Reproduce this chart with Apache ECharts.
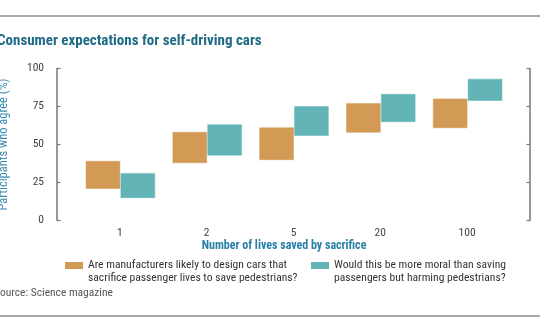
<!DOCTYPE html>
<html>
<head>
<meta charset="utf-8">
<script src="https://cdn.jsdelivr.net/npm/echarts@6/dist/echarts.min.js"></script>
<style>
  html, body { margin: 0; padding: 0; background: #fff; }
  #chart { width: 540px; height: 334px; }
</style>
</head>
<body>
<div id="chart"></div>
<script>
// Lives saved by sacrifice (x categories)
const categories = ['1', '2', '5', '20', '100'];
// Range of agreement (%) for each question, low and high ends
const makersLow  = [21, 38, 40, 58, 61];
const makersHigh = [39, 58, 61, 77, 80];
const moralLow   = [15, 43, 56, 65, 79];
const moralHigh  = [31, 63, 75, 83, 93];

const seriesNames = [
  'Are manufacturers likely to design cars that\nsacrifice passenger lives to save pedestrians?',
  'Would this be more moral than saving\npassengers but harming pedestrians?'
];
const ORANGE = '#d39a56';
const TEAL = '#62b4b6';
const FONT = '"Roboto Condensed", "DejaVu Sans Condensed", sans-serif';
// Legend swatch: a 18x7 bar on the first text line (the trailing move point pads the box)
const SWATCH = 'path://M0,0L18,0L18,7L0,7Z M0,19';

// Draws a floating box for [idx, low, high]; side -1 = left of the category, +1 = right
function boxRenderer(side, color) {
  return function (params, api) {
    const i = api.value(0);
    const top = api.coord([i, api.value(2)]);
    const bottom = api.coord([i, api.value(1)]);
    const band = api.size([1, 0])[0];
    const w = band * 0.39;
    const x = side < 0 ? top[0] - w : top[0] + 1;
    return {
      type: 'rect',
      shape: { x: x, y: top[1], width: w, height: bottom[1] - top[1] },
      style: api.style({ fill: color, stroke: color, lineWidth: 0.5 })
    };
  };
}

const makersData = categories.map((c, i) => [i, makersLow[i], makersHigh[i]]);
const moralData = categories.map((c, i) => [i, moralLow[i], moralHigh[i]]);

const legendText = { color: '#333', fontSize: 11.6, lineHeight: 13, fontFamily: FONT };

const chart = echarts.init(document.getElementById('chart'), null, { renderer: 'canvas' });
chart.setOption({
  animation: false,
  backgroundColor: '#fff',
  textStyle: { fontFamily: FONT },
  grid: { left: 76.5, right: 29.5, top: 68.5, bottom: 113.5, containLabel: false, outerBoundsMode: 'none' },
  xAxis: {
    type: 'category',
    data: categories,
    boundaryGap: true,
    axisLine: { show: false },
    axisTick: { show: false },
    axisLabel: { color: '#444', fontSize: 11.5, margin: 7, fontFamily: FONT }
  },
  yAxis: [
    {
      type: 'value', min: 0, max: 100, interval: 25,
      position: 'left', offset: 19.5,
      name: 'Participants who agree (%)',
      nameLocation: 'middle', nameGap: 47, nameRotate: 90,
      nameTextStyle: { color: '#3a8db2', fontSize: 12.5, fontFamily: FONT },
      axisLine: { show: true, lineStyle: { color: '#777', width: 1.5 } },
      axisTick: { show: true, inside: true, length: 3.5, lineStyle: { color: '#777', width: 1.2 } },
      axisLabel: { color: '#444', fontSize: 11.5, margin: 13, fontFamily: FONT },
      splitLine: { show: false }
    },
    {
      type: 'value', min: 0, max: 100, interval: 25,
      position: 'right', offset: 19.5,
      axisLine: { show: true, lineStyle: { color: '#777', width: 1.5 } },
      axisTick: { show: true, inside: true, length: 3.5, lineStyle: { color: '#777', width: 1.2 } },
      axisLabel: { show: false },
      splitLine: { show: false }
    }
  ],
  legend: [
    {
      data: [seriesNames[0]], left: 65, top: 258.5, padding: 0,
      icon: SWATCH, itemWidth: 18, itemHeight: 19, itemGap: 0,
      textStyle: legendText
    },
    {
      data: [seriesNames[1]], left: 311, top: 258.5, padding: 0,
      icon: SWATCH, itemWidth: 18, itemHeight: 19, itemGap: 0,
      textStyle: legendText
    }
  ],
  graphic: [
    { type: 'line', shape: { x1: 0, y1: 16, x2: 540, y2: 16 }, style: { stroke: '#8a8a8a', lineWidth: 1.5 } },
    { type: 'line', shape: { x1: 0, y1: 316, x2: 540, y2: 316 }, style: { stroke: '#8a8a8a', lineWidth: 1.5 } },
    {
      type: 'text', x: -3, y: 41,
      style: { text: 'Consumer expectations for self-driving cars', fill: '#1f6a85',
               font: 'bold 15px ' + FONT, textAlign: 'left', textVerticalAlign: 'middle' }
    },
    {
      type: 'text', x: 284, y: 246,
      style: { text: 'Number of lives saved by sacrifice', fill: '#2a7fa6',
               font: 'bold 12px ' + FONT, textAlign: 'center', textVerticalAlign: 'middle' }
    },
    {
      type: 'text', x: -6, y: 293,
      style: { text: 'Source: Science magazine', fill: '#555',
               font: '11.5px ' + FONT, textAlign: 'left', textVerticalAlign: 'middle' }
    }
  ],
  series: [
    {
      name: seriesNames[0], type: 'custom', data: makersData,
      itemStyle: { color: ORANGE },
      encode: { x: 0, y: [1, 2] },
      renderItem: boxRenderer(-1, ORANGE)
    },
    {
      name: seriesNames[1], type: 'custom', data: moralData,
      itemStyle: { color: TEAL },
      encode: { x: 0, y: [1, 2] },
      renderItem: boxRenderer(1, TEAL)
    }
  ]
});
</script>
</body>
</html>
